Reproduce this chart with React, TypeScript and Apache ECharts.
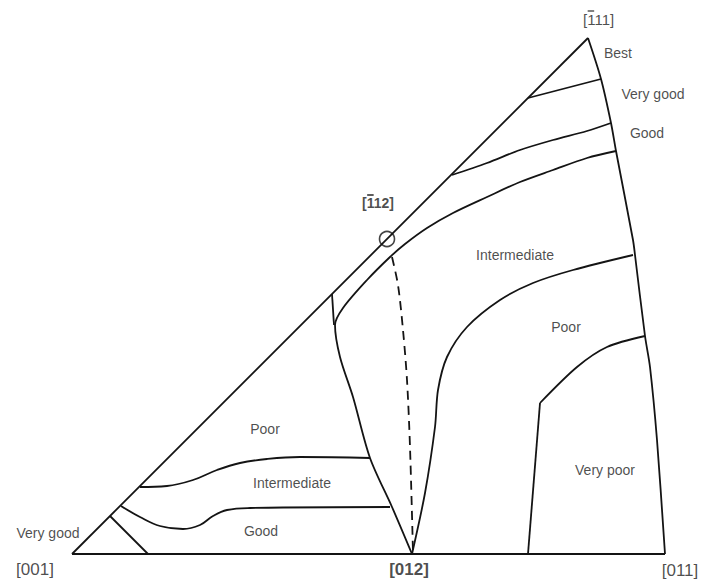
import React, { useEffect, useRef } from "react";
import * as echarts from "echarts";

// Boundary curves of the stereographic triangle (image coordinates, y downward)
const leftEdge = [[72, 554], [588, 38]];
const bottomEdge = [[72, 554], [665, 554]];
const rightEdge = [[588, 38], [601, 79], [611, 123], [616, 151], [633, 240], [635, 255], [645, 336], [650, 367], [657, 440], [665, 554]];
const bestVeryGood = [[528, 98], [601, 79]];
const veryGoodGood = [[452, 175], [487, 163], [520, 150], [553, 140], [587, 131], [611, 123]];
const goodIntermediate = [[616, 151], [587, 158], [553, 170], [520, 182], [487, 197], [453, 213], [427, 228], [405, 244], [390, 257], [367, 280], [343, 308], [335, 325], [340, 357], [353, 397], [370, 458], [392, 507], [412, 554]];
const shortVertical = [[332, 294], [334, 325]];
const intermediatePoor = [[633, 255], [573, 270], [533, 283], [500, 300], [467, 327], [447, 357], [438, 390], [435, 427], [425, 493], [412, 554]];
const poorVeryPoorArc = [[645, 336], [607, 347], [577, 367], [540, 403]];
const poorVeryPoorLeg = [[540, 403], [528, 554]];
const dashedTrace = [[392, 257], [398, 285], [403, 330], [407, 380], [410, 447], [413, 553]];
const leftPoorIntermediate = [[140, 487], [167, 486], [193, 480], [217, 470], [240, 463], [267, 459], [300, 457], [370, 458]];
const leftIntermediateGood = [[121, 506], [140, 517], [160, 526], [183, 529], [200, 525], [213, 516], [227, 510], [250, 508], [390, 507]];
const leftVeryGoodGood = [[110, 516], [148, 554]];
const pole112 = [[387, 239]];

// Region labels: [x, y, text]
const regionLabels: [number, number, string][] = [
  [618, 53, "Best"],
  [653, 94, "Very good"],
  [647, 133, "Good"],
  [515, 255, "Intermediate"],
  [566, 327, "Poor"],
  [605, 470, "Very poor"],
  [265, 429, "Poor"],
  [292, 483, "Intermediate"],
  [261, 531, "Good"],
  [48, 533, "Very good"],
];
// Corner pole labels: [x, y, text, bold]
const cornerLabels: [number, number, string, boolean][] = [
  [35, 569, "[001]", false],
  [409, 569, "[012]", true],
  [680, 570, "[011]", false],
];
// Poles with a negative (barred) first index: [left x, y, digits after the barred 1, fontSize, bold]
const barredPoles: [number, number, string, number, boolean][] = [
  [583, 18, "11", 15, false],
  [362, 202, "12", 14, true],
];

const INK = "#141414";
const TXT = "#1e1e1e";
const SANS = "'Liberation Sans', Arial, sans-serif";

function lineSeries(data: number[][], smooth: number | boolean, dashed = false) {
  return {
    type: "line",
    data,
    showSymbol: false,
    symbol: "none",
    smooth,
    silent: true,
    lineStyle: { color: INK, width: 1.8, type: dashed ? [9, 6] : "solid" },
    z: 2,
  };
}

export default function App() {
  const ref = useRef<HTMLDivElement>(null);
  useEffect(() => {
    if (!ref.current) return;
    const chart = echarts.init(ref.current, undefined, { renderer: "svg" });
    const plain = [
      ...regionLabels.map((l) => ({ x: l[0], y: l[1], text: l[2], size: 14, bold: false })),
      ...cornerLabels.map((l) => ({ x: l[0], y: l[1], text: l[2], size: 17, bold: l[3] })),
    ].map((l) => ({
      value: [l.x, l.y],
      label: {
        show: true,
        position: "inside",
        formatter: l.text,
        fontSize: l.size,
        fontWeight: l.bold ? "bold" : "normal",
        color: TXT,
        fontFamily: SANS,
      },
    }));
    const barred = barredPoles.map((p) => {
      const size = p[3];
      const weight = p[4] ? "bold" : "normal";
      const bracketW = (p[4] ? 0.333 : 0.278) * size;
      return {
        value: [p[0], p[1]],
        label: {
          show: true,
          position: "inside",
          align: "left",
          verticalAlign: "middle",
          formatter: "{p| }{o| }\n{t|[1" + p[2] + "]}",
          rich: {
            p: { width: bracketW + 0.5, height: 2, lineHeight: 2, fontSize: 2 },
            o: { width: 6.5, height: p[4] ? 1.8 : 1.4, lineHeight: 2, fontSize: 2, backgroundColor: TXT },
            t: { fontSize: size, fontWeight: weight, color: TXT, fontFamily: SANS, lineHeight: 14 },
          },
        },
      };
    });
    chart.setOption({
      animation: false,
      backgroundColor: "#ffffff",
      grid: { left: 0, right: 0, top: 0, bottom: 0 },
      xAxis: { type: "value", min: 0, max: 701, show: false },
      yAxis: { type: "value", min: 0, max: 581, inverse: true, show: false },
      series: [
        lineSeries(leftEdge, false),
        lineSeries(bottomEdge, false),
        lineSeries(rightEdge, 0.3),
        lineSeries(bestVeryGood, false),
        lineSeries(veryGoodGood, 0.3),
        lineSeries(goodIntermediate, 0.3),
        lineSeries(shortVertical, false),
        lineSeries(intermediatePoor, 0.3),
        lineSeries(poorVeryPoorArc, 0.3),
        lineSeries(poorVeryPoorLeg, false),
        lineSeries(dashedTrace, 0.3, true),
        lineSeries(leftPoorIntermediate, 0.4),
        lineSeries(leftIntermediateGood, 0.4),
        lineSeries(leftVeryGoodGood, false),
        {
          type: "scatter",
          data: pole112,
          symbol: "circle",
          symbolSize: 15,
          silent: true,
          itemStyle: { color: "rgba(0,0,0,0)", borderColor: INK, borderWidth: 1.6 },
          z: 3,
        },
        {
          type: "scatter",
          data: [...plain, ...barred],
          symbolSize: 0,
          silent: true,
          z: 4,
        },
      ],
    });
    return () => chart.dispose();
  }, []);
  return (
    <div
      ref={ref}
      style={{ position: "fixed", left: 0, top: 0, width: 701, height: 581, background: "#fff" }}
    />
  );
}
